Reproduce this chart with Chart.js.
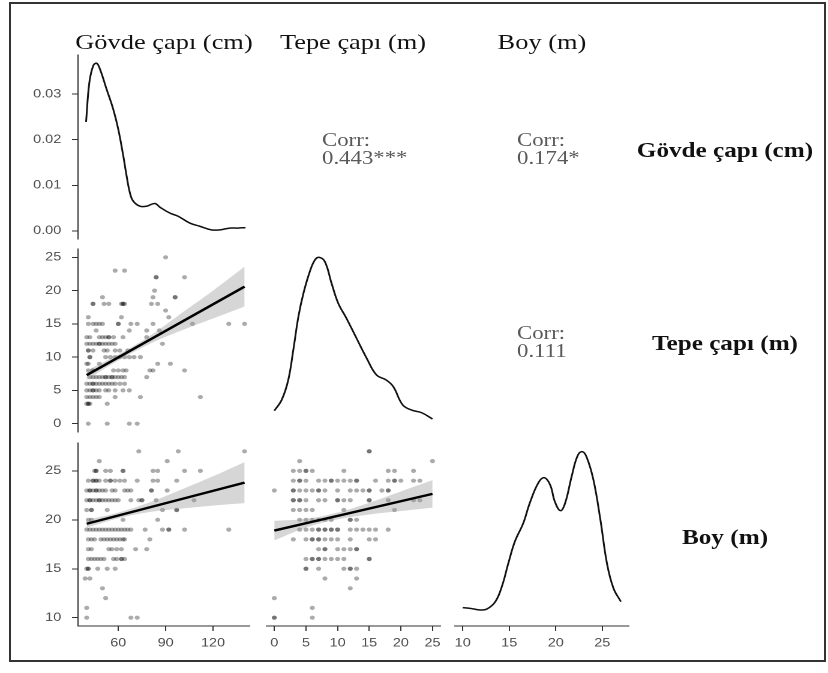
<!DOCTYPE html>
<html>
<head>
<meta charset="utf-8">
<script src="https://cdn.jsdelivr.net/npm/chart.js@4.4.1/dist/chart.umd.min.js"></script>
<style>
body{margin:0;background:#fff;width:828px;height:673px;overflow:hidden;position:relative}
#frame{position:absolute;left:9px;top:2px;width:813px;height:656px;border:2px solid #333}
#fig{position:absolute;left:0;top:0;width:690px;height:673px;transform:scaleX(1.2);transform-origin:0 0}
#fig canvas{position:absolute}
.txt{position:absolute;font-family:"Liberation Serif","Times New Roman",serif;white-space:nowrap}
.head{font-size:22px;line-height:24px;color:#111;text-align:center;width:300px}
.strip{font-size:21px;line-height:24px;color:#111;font-weight:bold;text-align:center;width:300px}
.corr{font-size:19px;line-height:18px;color:#595959}
</style>
</head>
<body>
<div id="frame"></div>
<div id="fig"></div>
<script>
// variables
const varNames = ['Gövde çapı (cm)', 'Tepe çapı (m)', 'Boy (m)'];
const corrLabels = ['0.443***', '0.174*', '0.111'];

// tick values
const densTicks = [0, 0.01, 0.02, 0.03];
const densTickLabels = ['0.00', '0.01', '0.02', '0.03'];
const govdeTicks = [60, 90, 120];
const tepeTicks = [0, 5, 10, 15, 20, 25];
const boyTicks = [10, 15, 20, 25];

// Tepe çapı (y) vs Gövde çapı (x): one row per Tepe value
const tepeRowsA = [25, 23, 22, 20, 19, 18, 17, 16, 15, 14, 13, 12, 11, 10, 9, 8, 7, 6, 5, 4, 3, 0];
const govdeByTepe = [
  [90],
  [58, 64],
  [84, 84, 102],
  [83],
  [50, 82, 96, 96],
  [44, 44, 51, 54, 62, 63, 63, 64, 81, 85],
  [90],
  [41, 62, 92],
  [41, 44, 46, 48, 50, 60, 60, 68, 72, 82, 107, 130, 140],
  [46, 67, 78, 86],
  [40, 42, 48, 50, 52, 54, 54, 57, 63, 78],
  [40, 42, 44, 46, 48, 48, 50, 52, 54, 56, 58, 88],
  [41, 41, 44, 51, 53, 58, 61, 66],
  [42, 42, 52, 55, 58, 61, 64, 67, 70, 74],
  [40, 41, 48, 85, 93],
  [41, 44, 44, 57, 60, 63, 65, 80, 82, 102],
  [42, 44, 46, 48, 50, 52, 52, 54, 56, 56, 58, 60, 62, 64, 78],
  [40, 42, 44, 44, 46, 48, 50, 52, 54, 56, 58, 61, 64],
  [40, 42, 44, 44, 46, 48, 52, 54, 58, 63, 67],
  [40, 42, 44, 46, 48, 58, 74, 112],
  [40, 41, 41, 42, 53],
  [41, 53, 67, 72]
];
const fitAX = [40, 140];
const fitAY = [7.3, 20.6];
const bandAX = [40, 60, 80, 100, 120, 140];
const bandALo = [6.6, 9.5, 12.0, 14.0, 15.8, 17.6];
const bandAHi = [8.0, 10.4, 13.2, 16.6, 20.0, 23.6];

// Boy (y) vs Gövde çapı (x)
const boyRowsB = [27, 26, 25, 24, 23, 22, 21, 20, 19, 18, 17, 16, 15, 14, 13, 12, 11, 10];
const govdeByBoy = [
  [73, 98, 140],
  [48, 91],
  [45, 46, 46, 52, 55, 63, 63, 82, 85, 102, 112],
  [41, 44, 44, 46, 46, 48, 52, 55, 55, 58, 61, 64, 72, 82, 85, 97],
  [40, 42, 42, 44, 46, 46, 48, 50, 52, 56, 58, 64, 66, 68, 81, 81, 91],
  [40, 42, 42, 44, 46, 48, 48, 50, 52, 54, 56, 58, 60, 68, 73, 75, 75, 84, 108],
  [40, 43, 43, 53, 88, 97, 97],
  [41, 43, 63, 85],
  [40, 42, 44, 46, 48, 50, 52, 54, 56, 58, 60, 62, 64, 66, 68, 77, 88, 92, 92, 102, 130],
  [41, 43, 45, 49, 51, 53, 55, 57, 59, 61, 63, 64, 80],
  [41, 43, 54, 56, 59, 62, 71, 78],
  [41, 43, 45, 47, 49, 51, 57, 59, 62, 62, 64],
  [40, 41, 41, 47, 53, 58],
  [39, 42],
  [50],
  [52],
  [40],
  [40, 68, 72]
];
const fitBX = [40, 140];
const fitBY = [19.6, 23.8];
const bandBX = [40, 60, 80, 100, 120, 140];
const bandBLo = [19.2, 20.15, 20.8, 21.15, 21.45, 21.7];
const bandBHi = [20.0, 20.75, 21.8, 23.1, 24.45, 25.9];

// Boy (y) vs Tepe çapı (x)
const boyRowsC = [27, 26, 25, 24, 23, 22, 21, 20, 19, 18, 17, 16, 15, 14, 13, 12, 11, 10];
const tepeByBoy = [
  [15, 15],
  [4, 25],
  [3, 4, 5, 5, 6, 11, 18, 19, 22],
  [3, 4, 4, 5, 7, 8, 9, 9, 10, 11, 12, 13, 13, 16, 18, 19, 19, 20, 22, 23],
  [0, 3, 3, 4, 5, 6, 7, 7, 8, 10, 12, 13, 14, 15, 15, 17, 18, 18],
  [3, 3, 4, 4, 5, 7, 8, 10, 10, 11, 12, 15, 15, 18, 22, 23],
  [3, 4, 5, 6, 11, 19],
  [4, 5, 6, 7, 8, 9, 12, 12, 13],
  [4, 5, 6, 7, 7, 8, 8, 9, 9, 10, 10, 12, 13, 14, 15, 16, 18],
  [3, 5, 6, 6, 7, 7, 8, 9, 10, 12, 15, 16],
  [7, 8, 8, 10, 11, 12, 13, 13],
  [5, 6, 6, 7, 7, 8, 9, 10, 11, 15, 15],
  [5, 5, 7, 11, 12, 12, 13],
  [8, 13],
  [12],
  [0],
  [6],
  [0, 0, 6]
];
const fitCX = [0, 25];
const fitCY = [18.9, 22.65];
const bandCX = [0, 5, 10, 15, 20, 25];
const bandCLo = [17.9, 19.2, 20.05, 20.55, 20.9, 21.25];
const bandCHi = [19.9, 20.1, 20.75, 21.75, 22.9, 24.05];

// densities on the diagonal
const govdeDensX = [39.6, 41.7, 44.2, 46.3, 48.4, 52.6, 56.8, 60, 63.2, 65.3, 67.4, 69.5, 73.7, 77.9, 83.2, 86.3, 92.6, 97.9, 105.3, 111.6, 119, 124.2, 130.5, 135.8, 140.6];
const govdeDensY = [0.0239, 0.0326, 0.0363, 0.0368, 0.0355, 0.0311, 0.0267, 0.0223, 0.0164, 0.012, 0.0083, 0.0065, 0.0054, 0.0054, 0.006, 0.0052, 0.0039, 0.0032, 0.0017, 0.001, 0.0002, 0.0002, 0.0006, 0.0006, 0.0007];
const tepeDensX = [0, 1.16, 2.2, 3.0, 3.8, 4.6, 5.6, 6.4, 7.1, 8.0, 9.05, 10.1, 11.4, 13.0, 14.6, 16.15, 17.7, 18.8, 20.3, 21.7, 23.25, 25.0];
const tepeDensY = [0.0078, 0.0129, 0.0223, 0.0365, 0.0522, 0.0633, 0.0735, 0.079, 0.0803, 0.0782, 0.068, 0.0586, 0.0515, 0.042, 0.0326, 0.0247, 0.0223, 0.0192, 0.0105, 0.0081, 0.0069, 0.0039];
const boyDensX = [10.0, 10.8, 11.9, 12.6, 13.5, 14.2, 14.9, 15.6, 16.5, 17.2, 18.1, 18.75, 19.4, 19.9, 20.5, 21.0, 21.7, 22.3, 22.8, 23.3, 24.05, 24.8, 25.5, 26.2, 27.0];
const boyDensY = [0.0068, 0.0063, 0.0051, 0.0058, 0.0111, 0.022, 0.039, 0.0548, 0.0681, 0.0827, 0.0972, 0.1013, 0.096, 0.0839, 0.0773, 0.0827, 0.102, 0.1165, 0.1202, 0.1165, 0.0996, 0.0705, 0.039, 0.0209, 0.0111];

// axis ranges
const govdeRange = [34.5, 143.2];
const tepeRange = [-1.25, 26.25];
const boyRange = [9.15, 27.85];

// layout (picture pixels); whole figure is stretched horizontally by S
const S = 1.2;
const YW = 50, XH = 32;
const colL = [78, 266, 455], colR = [250, 440, 629];
const rowT = [55, 249, 443], rowB = [239, 432, 626];
const axisColor = '#333';
const tickFont = { family: 'Liberation Sans, Arial, sans-serif', size: 12 };
const fig = document.getElementById('fig');

function toPoints(xs, ys) {
  return xs.map((x, i) => ({ x: x, y: ys[i] }));
}

function rowsToPoints(yVals, xLists) {
  const out = [];
  yVals.forEach((y, i) => xLists[i].forEach(x => out.push({ x: x, y: y })));
  return out;
}

function axis(range, show, ticks, labels, isX) {
  return {
    type: 'linear',
    min: range[0],
    max: range[1],
    display: show,
    position: isX ? 'bottom' : 'left',
    afterFit: s => { if (show) { if (isX) s.height = XH; else s.width = YW; } },
    afterBuildTicks: s => { if (ticks) s.ticks = ticks.map(v => ({ value: v })); },
    border: { display: true, color: axisColor, width: 1 },
    grid: { drawOnChartArea: false, drawTicks: true, tickLength: 5, tickColor: axisColor, tickWidth: 1 },
    ticks: {
      color: '#4d4d4d', font: tickFont, padding: isX ? 5 : 9, maxRotation: 0, autoSkip: false,
      callback: (v, i) => labels ? labels[i] : String(v)
    }
  };
}

function panel(col, row, datasets, xr, yr, xt, yt, yl) {
  const showY = col === 0, showX = row === 2;
  // generous padding so tick labels never push the plot area
  const padL = showY ? 0 : 6, padB = showX ? 0 : 20, padT = 20, padR = 18;
  const left = colL[col] / S - (showY ? YW : 0) - padL;
  const w = Math.round((colR[col] - colL[col]) / S + (showY ? YW : 0) + padL + padR);
  const top = rowT[row] - padT;
  const h = Math.round(rowB[row] - rowT[row] + (showX ? XH : 0) + padT + padB);
  const c = document.createElement('canvas');
  c.width = w; c.height = h;
  c.style.left = left + 'px'; c.style.top = top + 'px';
  c.style.width = w + 'px'; c.style.height = h + 'px';
  fig.appendChild(c);
  new Chart(c, {
    type: 'scatter',
    data: { datasets: datasets },
    options: {
      responsive: false,
      animation: false,
      devicePixelRatio: 2,
      layout: { padding: { left: padL, right: padR, top: padT, bottom: padB } },
      plugins: { legend: { display: false }, tooltip: { enabled: false } },
      scales: {
        x: axis(xr, showX, xt, null, true),
        y: axis(yr, showY, yt, yl, false)
      }
    }
  });
}

function densitySet(xs, ys) {
  return [{
    data: toPoints(xs, ys), showLine: true, borderColor: '#111', borderWidth: 1.5,
    pointRadius: 0, tension: 0.4, fill: false
  }];
}

function scatterSets(pts, fx, fy, bx, lo, hi) {
  return [
    { data: toPoints(fx, fy), showLine: true, borderColor: '#000', borderWidth: 2.4, pointRadius: 0, fill: false },
    { data: toPoints(bx, hi), showLine: true, borderColor: 'rgba(0,0,0,0)', borderWidth: 1, pointRadius: 0,
      tension: 0.4, fill: '+1', backgroundColor: 'rgba(153,153,153,0.4)' },
    { data: toPoints(bx, lo), showLine: true, borderColor: 'rgba(0,0,0,0)', borderWidth: 1, pointRadius: 0,
      tension: 0.4, fill: false },
    { data: pts, showLine: false, pointRadius: 2.1, pointBorderWidth: 0,
      pointBackgroundColor: 'rgba(0,0,0,0.33)', pointBorderColor: 'rgba(0,0,0,0)' }
  ];
}

// diagonal
panel(0, 0, densitySet(govdeDensX, govdeDensY), govdeRange, [-0.0018, 0.0386], null, densTicks, densTickLabels);
panel(1, 1, densitySet(tepeDensX, tepeDensY), tepeRange, [-0.00225, 0.08425], null, null, null);
panel(2, 2, densitySet(boyDensX, boyDensY), boyRange, [-0.00655, 0.1265], boyTicks, null, null);

// lower triangle
panel(0, 1, scatterSets(rowsToPoints(tepeRowsA, govdeByTepe), fitAX, fitAY, bandAX, bandALo, bandAHi),
  govdeRange, tepeRange, null, tepeTicks, null);
panel(0, 2, scatterSets(rowsToPoints(boyRowsB, govdeByBoy), fitBX, fitBY, bandBX, bandBLo, bandBHi),
  govdeRange, boyRange, govdeTicks, boyTicks, null);
panel(1, 2, scatterSets(rowsToPoints(boyRowsC, tepeByBoy), fitCX, fitCY, bandCX, bandCLo, bandCHi),
  tepeRange, boyRange, tepeTicks, null, null);

// texts
function addText(html, cls, x, y, centred) {
  const d = document.createElement('div');
  d.className = 'txt ' + cls;
  d.innerHTML = html;
  d.style.left = (centred ? x / S - 150 : x / S) + 'px';
  d.style.top = y + 'px';
  fig.appendChild(d);
}
const headX = [164, 353, 542];
varNames.forEach((n, i) => addText(n, 'head', headX[i], 30, true));
const stripY = [138, 331, 525];
varNames.forEach((n, i) => addText(n, 'strip', 725, stripY[i], true));
addText('Corr:<br>' + corrLabels[0], 'corr', 322, 131, false);
addText('Corr:<br>' + corrLabels[1], 'corr', 517, 131, false);
addText('Corr:<br>' + corrLabels[2], 'corr', 517, 324, false);
</script>
</body>
</html>
